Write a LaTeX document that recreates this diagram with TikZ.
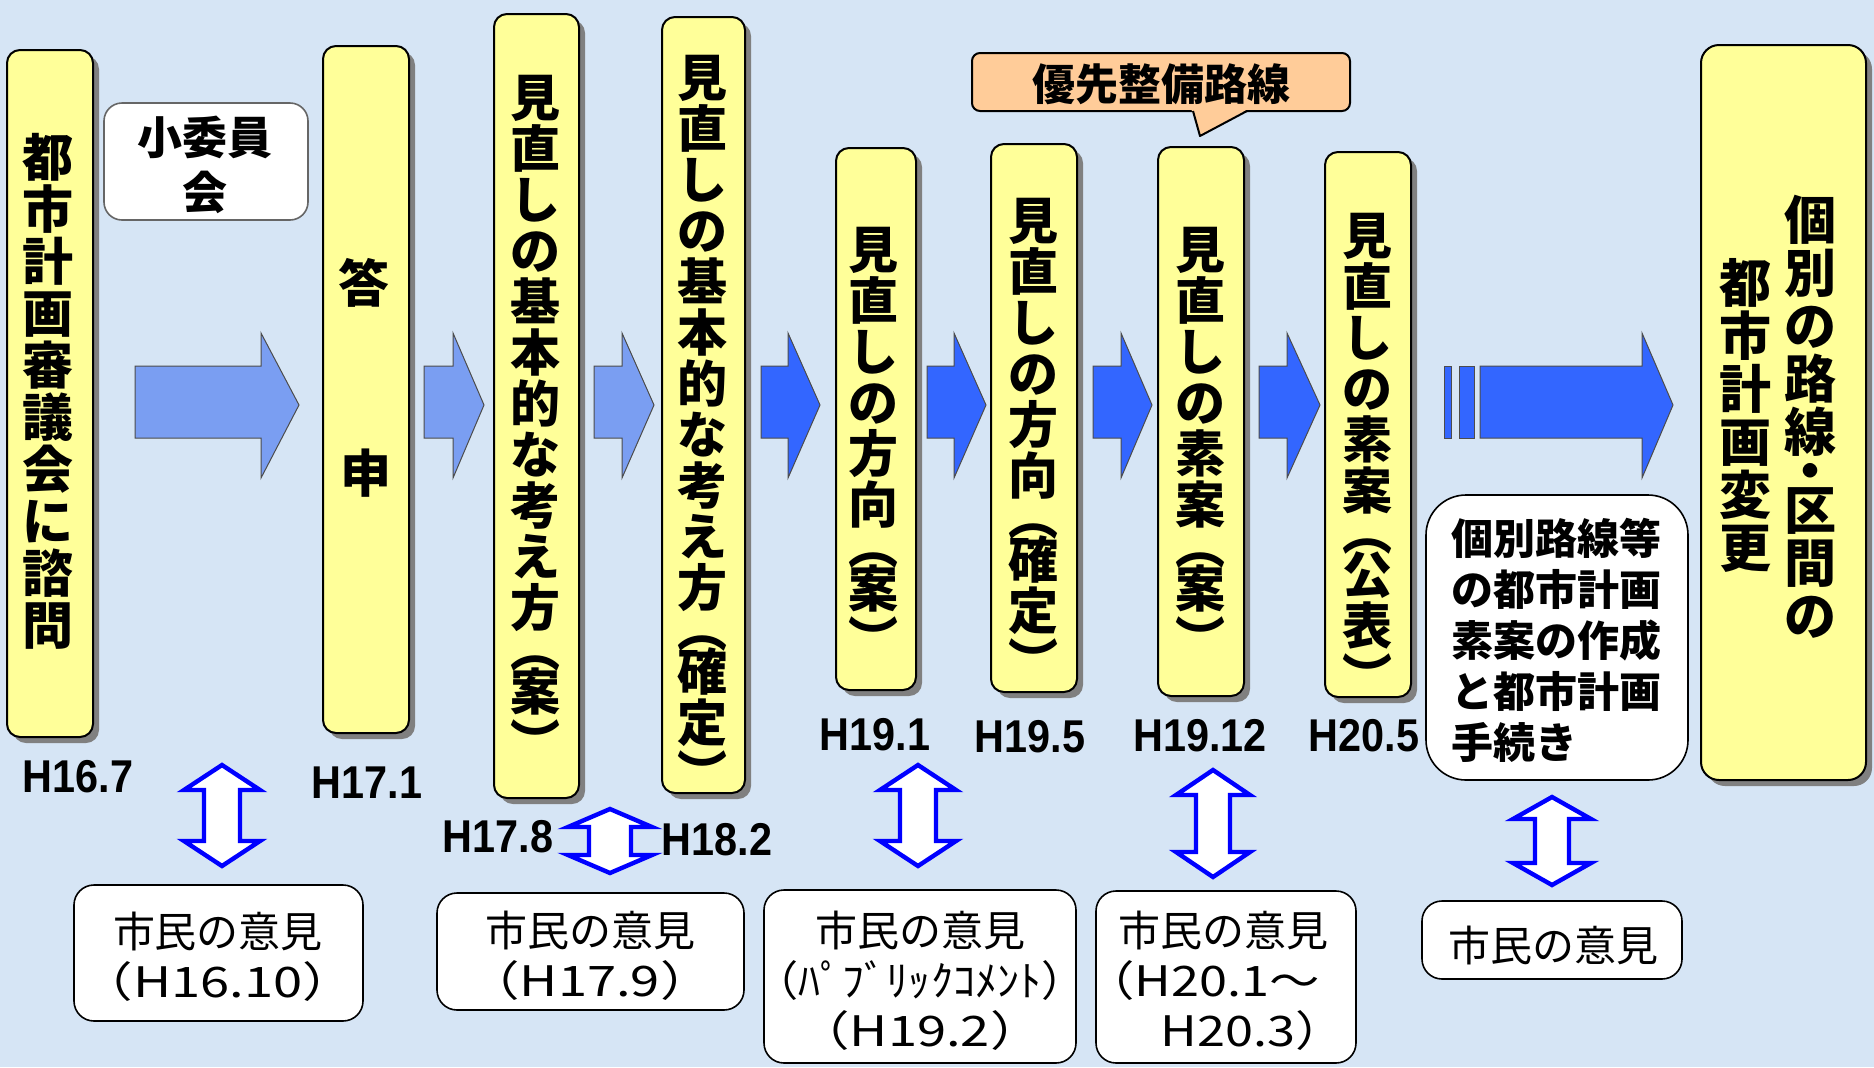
\documentclass[tikz,border=0pt]{standalone}
\usepackage{fontspec}
\newfontfamily\jp{Noto Sans CJK JP}
\newfontfamily\lab{Liberation Sans}
\usetikzlibrary{fit,shadows}
\definecolor{bgc}{HTML}{D6E5F5}
\definecolor{yfill}{HTML}{FFFF99}
\definecolor{sgray}{HTML}{808080}
\definecolor{lblue}{HTML}{7A9EF2}
\definecolor{dblue}{HTML}{3366FF}
\definecolor{peach}{HTML}{FFCC99}
\newcommand\hs[1]{\scalebox{0.9}[1]{#1}}
\newcommand\ws[1]{\scalebox{1.25}[1]{#1}}
\newcommand\barrow[4]{\draw[#4] (#1,366) -- (#2,366) -- (#2,333) -- (#3,405) -- (#2,478) -- (#2,438) -- (#1,438) -- cycle;}
\newcommand\udarrow[6]{\draw[ud] (#1,#2) -- ({#1+#5},{#2+#6}) -- ({#1+#4},{#2+#6}) -- ({#1+#4},{#3-#6}) -- ({#1+#5},{#3-#6}) -- (#1,#3) -- ({#1-#5},{#3-#6}) -- ({#1-#4},{#3-#6}) -- ({#1-#4},{#2+#6}) -- ({#1-#5},{#2+#6}) -- cycle;}
\tikzset{
 yb/.style={draw=black, line width=1pt, fill=yfill, rounded corners=6.5pt, inner sep=0pt, drop shadow={shadow xshift=3pt, shadow yshift=-3pt, fill=sgray, opacity=1}},
 wb/.style={draw=black, line width=0.8pt, fill=white, rounded corners=10pt, inner sep=0pt},
 vt/.style={font=\jp\bfseries\fontsize{25}{25.5}\selectfont, align=center, inner sep=0pt, anchor=north},
 wt/.style={font=\jp\fontsize{21}{25}\selectfont, align=center, inner sep=0pt},
 lbl/.style={font=\lab\bfseries\fontsize{23}{23}\selectfont, inner sep=0pt},
 la/.style={draw=black!70, line width=0.5pt, fill=lblue},
 da/.style={draw=black!70, line width=0.5pt, fill=dblue},
 ud/.style={draw=blue, line width=2.2pt, fill=white, line join=miter},
}
\begin{document}
\begin{tikzpicture}[x=0.5pt,y=-0.5pt]
\useasboundingbox (0,0) rectangle (1874,1067);
\fill[bgc] (0,0) rectangle (1874,1067);
% yellow boxes
\node[yb, fit={(7,50) (93,737)}] (b1) {};
\node[yb, fit={(323,46) (409,733)}] (b2) {};
\node[yb, fit={(494,14) (579,798)}] (b3) {};
\node[yb, fit={(662,17) (745,793)}] (b4) {};
\node[yb, fit={(836,148) (916,690)}] (b5) {};
\node[yb, fit={(991,144) (1077,692)}] (b6) {};
\node[yb, fit={(1158,147) (1244,696)}] (b7) {};
\node[yb, fit={(1325,152) (1411,697)}] (b8) {};
\node[yb, rounded corners=9pt, fit={(1701,45) (1866,780)}] (b9) {};
% small box
\node[draw=black!60, line width=0.8pt, fill=white, rounded corners=9pt, inner sep=0pt, fit={(104,103) (308,220)}] (sb) {};
\node[font=\jp\bfseries\fontsize{22.5}{27.5}\selectfont, align=center, inner sep=0pt] (sbt) at (205,165) {小委員\\会};
% callout
\node[draw=black, line width=1pt, fill=peach, rounded corners=4pt, inner sep=0pt, fit={(972,53) (1350,111)}] (co) {};
\fill[peach] (1191,108) -- (1200,136) -- (1250,108) -- cycle;
\draw[line width=1pt, line join=round] (1193,111) -- (1200,136) -- (1247,111);
\node[font=\jp\bfseries\fontsize{21.5}{21.5}\selectfont, inner sep=0pt] (cot) at (1161,84) {優先整備路線};
% block arrows
\barrow{135}{261}{299}{la}
\barrow{424}{453}{484}{la}
\barrow{594}{622}{654}{la}
\barrow{761}{788}{820}{da}
\barrow{927}{954}{986}{da}
\barrow{1093}{1121}{1152}{da}
\barrow{1259}{1287}{1320}{da}
\barrow{1480}{1642}{1673}{da}
\draw[da] (1444,366) rectangle (1451,438);
\draw[da] (1459,366) rectangle (1474,438);
% vertical texts
\node[vt, font=\jp\bfseries\fontsize{25.5}{26}\selectfont] (t1) at (48,133) {都\\市\\計\\画\\審\\議\\会\\に\\諮\\問};
\node[font=\jp\bfseries\fontsize{25.5}{26}\selectfont, inner sep=0pt] (t2a) at (364,283) {答};
\node[font=\jp\bfseries\fontsize{25.5}{26}\selectfont, inner sep=0pt] (t2b) at (366,473) {申};
\node[vt] (t3) at (535,75) {見\\直\\し\\の\\基\\本\\的\\な\\考\\え\\方\\[-5pt]︵\\[-4pt]案\\︶};
\node[vt] (t4) at (702,55) {見\\直\\し\\の\\基\\本\\的\\な\\考\\え\\方\\[-5pt]︵\\[-4pt]確\\定\\︶};
\node[vt] (t5) at (873,227) {見\\直\\し\\の\\方\\向\\[-5pt]︵\\[-4pt]案\\︶};
\node[vt] (t6) at (1033,198) {見\\直\\し\\の\\方\\向\\[-5pt]︵\\[-4pt]確\\定\\︶};
\node[vt] (t7) at (1200,227) {見\\直\\し\\の\\素\\案\\[-5pt]︵\\[-4pt]案\\︶};
\node[vt] (t8) at (1367,213) {見\\直\\し\\の\\素\\案\\[-5pt]︵\\[-4pt]公\\表\\︶};
\node[vt, font=\jp\bfseries\fontsize{26}{26.5}\selectfont] (t9a) at (1810,195) {個\\別\\の\\路\\線\\[-7pt]・\\[-7pt]区\\間\\の};
\node[vt, font=\jp\bfseries\fontsize{26}{26.5}\selectfont] (t9b) at (1745,258) {都\\市\\計\\画\\変\\更};
% dates
\node[lbl] (d1) at (78,777) {\hs{H16.7}};
\node[lbl] (d2) at (367,783) {\hs{H17.1}};
\node[lbl] (d3) at (498,837) {\hs{H17.8}};
\node[lbl] (d4) at (717,840) {\hs{H18.2}};
\node[lbl] (d5) at (875,735) {\hs{H19.1}};
\node[lbl] (d6) at (1030,737) {\hs{H19.5}};
\node[lbl] (d7) at (1200,736) {\hs{H19.12}};
\node[lbl] (d8) at (1364,736) {\hs{H20.5}};
% white boxes
\node[wb, rounded corners=20pt, fit={(1426,495) (1688,780)}] (kb) {};
\node[font=\jp\bfseries\fontsize{21}{25.5}\selectfont, align=left, anchor=west, inner sep=0pt] (kt) at (1451,640) {個別路線等\\の都市計画\\素案の作成\\と都市計画\\手続き};
\node[wb, fit={(74,885) (363,1021)}] (w1) {};
\node[wt] (w1t) at (218,957) {市民の意見\\\ws{（H16.10）}};
\node[wb, fit={(437,893) (744,1010)}] (w2) {};
\node[wt] (w2t) at (590,956) {市民の意見\\\ws{（H17.9）}};
\node[wb, fit={(764,890) (1076,1063)}] (w3) {};
\node[wt] (w3t) at (920,981) {市民の意見\\\scalebox{1.05}[1]{（ﾊﾟﾌﾞﾘｯｸｺﾒﾝﾄ）}\\\ws{（H19.2）}};
\node[wb, fit={(1096,891) (1356,1063)}] (w4) {};
\node[wt, align=left, anchor=west] (w4t) at (1118,981) {市民の意見\\\kern-17pt\scalebox{1.2}[1]{（H20.1～}\\　\scalebox{1.2}[1]{H20.3）}};
\node[wb, fit={(1422,901) (1682,979)}] (w5) {};
\node[wt] (w5t) at (1553,945) {市民の意見};
% up-down arrows
\udarrow{222}{765}{866}{18}{38}{25}
\udarrow{610}{809}{873}{21}{42}{18}
\udarrow{918}{765}{866}{18}{38}{25}
\udarrow{1213}{770}{877}{17}{37}{25}
\udarrow{1552}{797}{885}{17}{39}{22}
\end{tikzpicture}
\end{document}
